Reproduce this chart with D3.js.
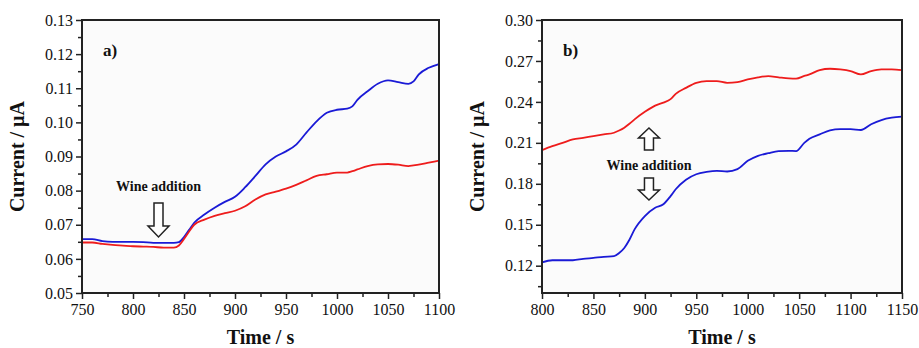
<!DOCTYPE html>
<html>
<head>
<meta charset="utf-8">
<script src="https://cdn.jsdelivr.net/npm/d3@7"></script>
<style>
body { margin: 0; background: #fff; }
svg text { font-family: "Liberation Serif", "Times New Roman", serif; fill: #111; }
</style>
</head>
<body>
<svg id="chart" width="919" height="348"></svg>
<script>
// panel a) time points and currents
var timeA = [750,760,770,780,790,800,810,820,830,840,845,850,855,860,870,880,890,900,910,920,930,940,950,960,970,980,990,1000,1010,1015,1020,1030,1040,1050,1060,1070,1075,1080,1090,1100];
var blueA = [0.0658,0.0658,0.0652,0.0650,0.0650,0.0650,0.0649,0.0647,0.0647,0.0647,0.0649,0.0664,0.0685,0.0706,0.0730,0.0750,0.0767,0.0782,0.0810,0.0843,0.0877,0.0900,0.0915,0.0935,0.0970,0.1003,0.1028,0.1037,0.1040,0.1047,0.1066,0.1091,0.1113,0.1123,0.1118,0.1113,0.1120,0.1140,0.1160,0.1171];
var redA  = [0.0648,0.0648,0.0644,0.0641,0.0639,0.0637,0.0636,0.0635,0.0633,0.0633,0.0639,0.0658,0.0680,0.0700,0.0715,0.0726,0.0734,0.0741,0.0754,0.0774,0.0789,0.0797,0.0806,0.0817,0.0830,0.0843,0.0848,0.0853,0.0853,0.0857,0.0862,0.0872,0.0877,0.0878,0.0876,0.0872,0.0874,0.0876,0.0882,0.0888];

// panel b)
var timeB = [800,810,820,830,840,850,860,870,875,880,885,890,900,910,918,925,930,940,950,960,970,980,990,1000,1010,1020,1030,1040,1047,1055,1060,1070,1080,1090,1100,1110,1120,1130,1140,1150];
var blueB = [0.1224,0.1240,0.1240,0.1240,0.1250,0.1257,0.1265,0.1270,0.1293,0.1330,0.1390,0.1466,0.1564,0.1625,0.1650,0.1710,0.1760,0.1830,0.1870,0.1887,0.1895,0.1890,0.1907,0.1968,0.2005,0.2024,0.2039,0.2041,0.2040,0.2100,0.2130,0.2162,0.2192,0.2200,0.2200,0.2194,0.2236,0.2267,0.2284,0.2292];
var redB  = [0.2047,0.2076,0.2100,0.2125,0.2137,0.2150,0.2162,0.2174,0.2190,0.2211,0.2240,0.2272,0.2327,0.2373,0.2395,0.2420,0.2459,0.2503,0.2540,0.2552,0.2552,0.2540,0.2545,0.2565,0.2580,0.2589,0.2580,0.2572,0.2570,0.2590,0.2601,0.2633,0.2643,0.2638,0.2626,0.2601,0.2626,0.2638,0.2638,0.2633];

var xTicksA = [750,800,850,900,950,1000,1050,1100];
var yTicksA = [0.05,0.06,0.07,0.08,0.09,0.10,0.11,0.12,0.13];
var xTicksB = [800,850,900,950,1000,1050,1100,1150];
var yTicksB = [0.12,0.15,0.18,0.21,0.24,0.27,0.30];

var svg = d3.select("#chart");

function midpoints(ticks) {
  return ticks.slice(0, -1).map(function(d, i) { return (d + ticks[i + 1]) / 2; });
}

// draws one panel, returns the scales so the notes can be placed
function drawPanel(opt) {
  var x = d3.scaleLinear().domain(opt.xDomain).range([opt.left, opt.right]);
  var y = d3.scaleLinear().domain(opt.yDomain).range([opt.bottom, opt.top]);
  var g = svg.append("g");

  g.append("rect")
    .attr("x", opt.left).attr("y", opt.top)
    .attr("width", opt.right - opt.left).attr("height", opt.bottom - opt.top)
    .attr("fill", "#fbfbfb");

  // minor ticks halfway between the majors (plus one below the first major in b)
  var xMinor = midpoints(opt.xTicks);
  var yMinor = midpoints(opt.yTicks);
  var yStep = opt.yTicks[1] - opt.yTicks[0];
  if (opt.yTicks[0] - yStep / 2 > opt.yDomain[0] + 1e-9) yMinor.unshift(opt.yTicks[0] - yStep / 2);

  g.append("g").attr("transform", "translate(0," + opt.bottom + ")")
    .call(d3.axisBottom(x).tickValues(xMinor).tickSize(4).tickFormat(""))
    .call(function(s) { s.select(".domain").remove(); s.selectAll("line").attr("stroke-width", 1.5).attr("stroke", "#222"); });
  g.append("g").attr("transform", "translate(" + opt.left + ",0)")
    .call(d3.axisLeft(y).tickValues(yMinor).tickSize(4).tickFormat(""))
    .call(function(s) { s.select(".domain").remove(); s.selectAll("line").attr("stroke-width", 1.5).attr("stroke", "#222"); });

  // major ticks with labels
  var xa = g.append("g").attr("transform", "translate(0," + opt.bottom + ")")
    .call(d3.axisBottom(x).tickValues(opt.xTicks).tickSize(6).tickPadding(5).tickFormat(d3.format("d")));
  xa.select(".domain").remove();
  xa.selectAll("line").attr("stroke-width", 1.5).attr("stroke", "#222");
  xa.selectAll("text").style("font-size", "16px").attr("fill", "#111");

  var ya = g.append("g").attr("transform", "translate(" + opt.left + ",0)")
    .call(d3.axisLeft(y).tickValues(opt.yTicks).tickSize(6).tickPadding(3).tickFormat(d3.format(".2f")));
  ya.select(".domain").remove();
  ya.selectAll("line").attr("stroke-width", 1.5).attr("stroke", "#222");
  ya.selectAll("text").style("font-size", "16px").attr("fill", "#111");

  var line = d3.line().x(function(d) { return x(d[0]); }).y(function(d) { return y(d[1]); }).curve(d3.curveMonotoneX);
  opt.series.forEach(function(s) {
    g.append("path")
      .datum(s.t.map(function(t, i) { return [t, s.v[i]]; }))
      .attr("d", line)
      .attr("fill", "none")
      .attr("stroke", s.color)
      .attr("stroke-width", 1.8);
  });

  // frame
  g.append("rect")
    .attr("x", opt.left).attr("y", opt.top)
    .attr("width", opt.right - opt.left).attr("height", opt.bottom - opt.top)
    .attr("fill", "none").attr("stroke", "#222").attr("stroke-width", 2);

  g.append("text")
    .attr("x", (opt.left + opt.right) / 2).attr("y", 344)
    .attr("text-anchor", "middle")
    .style("font-size", "20px").style("font-weight", "bold")
    .text("Time / s");
  g.append("text")
    .attr("transform", "translate(" + (opt.left - 58) + "," + ((opt.top + opt.bottom) / 2) + ") rotate(-90)")
    .attr("text-anchor", "middle")
    .style("font-size", "20px").style("font-weight", "bold")
    .text("Current / µA");
  g.append("text")
    .attr("x", opt.left + 21).attr("y", 56)
    .style("font-size", "17px").style("font-weight", "bold")
    .text(opt.name);

  return {x: x, y: y, g: g};
}

// hollow block arrow, tip at (cx, tipY), dir 1 = down, -1 = up
function blockArrow(g, cx, tipY, dir, len, head) {
  var sw = 4.5, hw = 10.5;
  var base = tipY - dir * len, neck = tipY - dir * head;
  var pts = [[cx - sw, base], [cx + sw, base], [cx + sw, neck], [cx + hw, neck], [cx, tipY], [cx - hw, neck], [cx - sw, neck]];
  g.append("path")
    .attr("d", "M" + pts.map(function(p) { return p.join(","); }).join("L") + "Z")
    .attr("fill", "#fff").attr("stroke", "#222").attr("stroke-width", 1.5);
}

var pa = drawPanel({
  name: "a)", left: 82, right: 439, top: 20, bottom: 293,
  xDomain: [750, 1100], yDomain: [0.05, 0.13],
  xTicks: xTicksA, yTicks: yTicksA,
  series: [{t: timeA, v: blueA, color: "#1a1ad6"}, {t: timeA, v: redA, color: "#ee1c1c"}]
});
pa.g.append("text").attr("x", pa.x(825)).attr("y", 191).attr("text-anchor", "middle")
  .style("font-size", "14px").style("font-weight", "bold").text("Wine addition");
blockArrow(pa.g, pa.x(825), 237, 1, 34, 11);

var pb = drawPanel({
  name: "b)", left: 542, right: 902, top: 20, bottom: 293,
  xDomain: [800, 1150], yDomain: [0.10, 0.30],
  xTicks: xTicksB, yTicks: yTicksB,
  series: [{t: timeB, v: blueB, color: "#1a1ad6"}, {t: timeB, v: redB, color: "#ee1c1c"}]
});
pb.g.append("text").attr("x", pb.x(904)).attr("y", 170).attr("text-anchor", "middle")
  .style("font-size", "14px").style("font-weight", "bold").text("Wine addition");
blockArrow(pb.g, pb.x(904), 128, -1, 22, 10);
blockArrow(pb.g, pb.x(904), 200, 1, 22, 10);
</script>
</body>
</html>
